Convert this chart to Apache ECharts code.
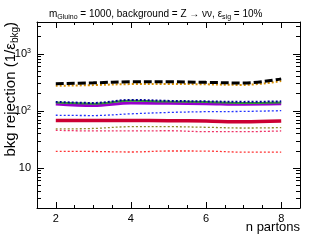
<!DOCTYPE html>
<html>
<head>
<meta charset="utf-8">
<script src="https://cdn.jsdelivr.net/npm/echarts@6/dist/echarts.min.js"></script>
<style>
html,body{margin:0;padding:0;background:#fff;}
#chart{width:310px;height:240px;}
</style>
</head>
<body>
<div id="chart"></div>
<script>
const nPartons = [2, 3, 4, 5, 6, 7, 8];
const blackDashed = [298, 310, 323, 323, 316, 308, 364];
const orangeDotted = [275, 283, 295, 297, 292, 285, 333];
const navyDotted = [144, 138, 156, 150, 147, 144, 147];
const greenSolid = [140, 134, 151, 146, 143, 138, 141];
const purpleSolid = [132, 124, 138, 136, 134, 131, 133];
const blueDotted = [84, 83, 89, 94, 97, 98, 101];
const crimsonSolid = [68, 68, 68, 67.5, 66.5, 64.5, 66.5];
const oliveDotted = [48.3, 49.3, 53, 53, 51.7, 50.2, 51];
const pinkDotted = [45.8, 44.6, 44.6, 45, 43.3, 43.3, 44.6];
const redDotted = [19.6, 19.5, 19.1, 19.9, 19.8, 19.0, 19.0];

const xMajor = [2, 4, 6, 8];
const xMinor = [2, 2.5, 3, 3.5, 4, 4.5, 5, 5.5, 6, 6.5, 7, 7.5, 8];
const yMajor = [10, 100, 1000];
const yMinor = [2,3,4,5,6,7,8,9,20,30,40,50,60,70,80,90,200,300,400,500,600,700,800,900,2000,3000];

const FONT = 'Liberation Sans, Arial, sans-serif';
const chart = echarts.init(document.getElementById('chart'), null, {renderer: 'canvas'});

function pairs(arr) { return nPartons.map((x, i) => [x, arr[i]]); }

function xAx(pos, vals, len, labels, line) {
  return {
    type: 'value', position: pos, min: 1.5, max: 8.5,
    axisLine: {show: line, lineStyle: {color: '#000', width: 1}},
    axisTick: {show: true, inside: true, length: len, customValues: vals, lineStyle: {color: '#000'}},
    axisLabel: labels ? {show: true, customValues: xMajor, margin: 5, fontSize: 11, fontFamily: FONT, color: '#000'} : {show: false},
    splitLine: {show: false}
  };
}
function yAx(pos, vals, len, labels, line) {
  return {
    type: 'log', logBase: 10, position: pos, min: 2, max: 3600,
    axisLine: {show: line, lineStyle: {color: '#000', width: 1}},
    axisTick: {show: true, inside: true, length: len, customValues: vals, lineStyle: {color: '#000'}},
    axisLabel: labels ? {
      show: true, customValues: yMajor, margin: 6, fontSize: 11, fontFamily: FONT, color: '#000',
      formatter: function (v) {
        const e = Math.round(Math.log10(v));
        return e === 1 ? '10' : '10{sup|' + e + '}';
      },
      rich: {sup: {fontSize: 7, fontFamily: FONT, color: '#000', verticalAlign: 'top', padding: [0, 0, 6, 0]}}
    } : {show: false},
    splitLine: {show: false}
  };
}

function ser(name, data, color, width, type) {
  return {
    name: name, type: 'line', xAxisIndex: 0, yAxisIndex: 0,
    data: pairs(data), showSymbol: false, smooth: 0.35,
    lineStyle: {color: color, width: width, type: type},
    emphasis: {disabled: true}, silent: true
  };
}

const option = {
  animation: false,
  grid: {left: 37, right: 10, top: 22, bottom: 32, containLabel: false},
  title: {
    left: 44, top: 3,
    text: 'm{sub|Gluino} = 1000, background = Z \u2192 \u03bd\u03bd, \u03b5{sub|sig} = 10%',
    textStyle: {
      fontSize: 10, fontWeight: 'normal', fontFamily: FONT, color: '#000',
      rich: {sub: {fontSize: 7, fontFamily: FONT, color: '#000', verticalAlign: 'bottom', padding: [6, 0, 0, 0]}}
    }
  },
  xAxis: [
    xAx('bottom', xMajor, 6, true, true),
    xAx('bottom', xMinor, 3, false, false),
    xAx('top', xMajor, 6, false, true),
    xAx('top', xMinor, 3, false, false)
  ],
  yAxis: [
    yAx('left', yMajor, 7, true, true),
    yAx('left', yMinor, 4, false, false),
    yAx('right', yMajor, 7, false, true),
    yAx('right', yMinor, 4, false, false)
  ],
  graphic: [
    {
      type: 'text', x: 11, y: 22, rotation: Math.PI / 2,
      style: {
        text: 'bkg rejection (1/\u03b5{sub|bkg})',
        fontSize: 15, fontFamily: FONT, fill: '#000',
        align: 'right', verticalAlign: 'middle',
        rich: {sub: {fontSize: 10, fontFamily: FONT, fill: '#000', verticalAlign: 'bottom', padding: [9, 0, 0, 0]}}
      }
    },
    {
      type: 'text', x: 300, y: 227,
      style: {text: 'n partons', fontSize: 13, fontFamily: FONT, fill: '#000', align: 'right', verticalAlign: 'middle'}
    }
  ],
  series: [
    ser('red', redDotted, '#ff3333', 1.3, [2, 2]),
    ser('pink', pinkDotted, '#ee3366', 1.3, [2, 2]),
    ser('olive', oliveDotted, '#8c8c2a', 1.3, [2, 2]),
    ser('crimson', crimsonSolid, '#cc0033', 3.5, 'solid'),
    ser('blue', blueDotted, '#2233ff', 1.3, [2, 2]),
    ser('purple', purpleSolid, '#9900cc', 3, 'solid'),
    ser('green', greenSolid, '#339933', 2, 'solid'),
    ser('navy', navyDotted, '#000099', 2, [2, 2]),
    ser('orange', orangeDotted, '#d99000', 2, [2, 2]),
    ser('black', blackDashed, '#000000', 3, [8, 3])
  ]
};
chart.setOption(option);
</script>
</body>
</html>
